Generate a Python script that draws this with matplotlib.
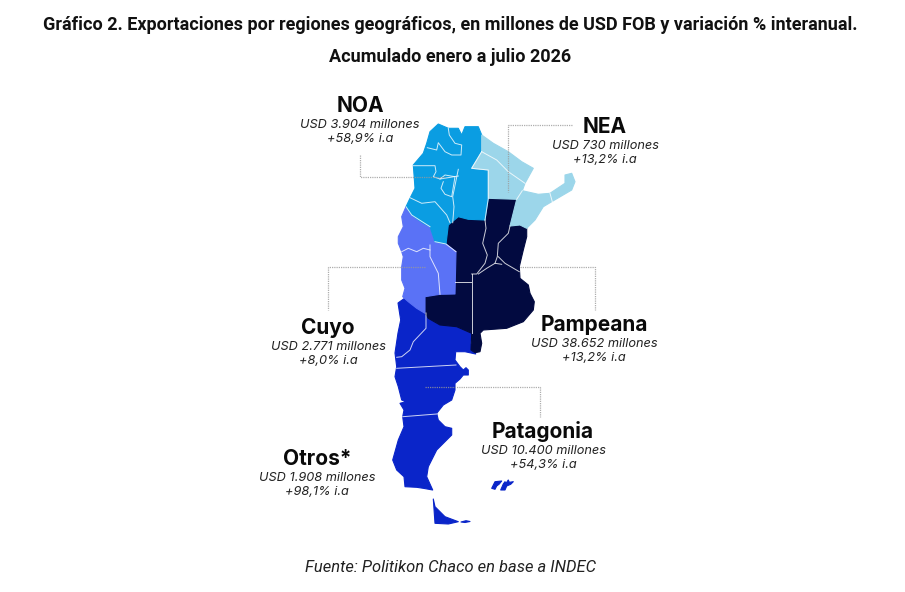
import matplotlib
matplotlib.use('Agg')
import matplotlib.pyplot as plt
from matplotlib.patches import Polygon

# region outlines, in picture units (x right, y down)
noa = [(438.3,124),(448.3,128.3),(458.3,128.3),(461.7,135),(465,126.7),(478.3,126.7),(481.7,135),
       (481.7,151.7),(471.7,168.3),(488.3,170),(488.3,198.3),(485,220),(468.3,219.3),(458.3,216.7),
       (448.3,225),(446,244),(435,241.7),(430,226.7),(423.3,223.3),(411.7,215),(406,206.7),(410,198.3),
       (415,188.3),(413.3,165),(423.3,153.3),(426.7,143.3),(430,131.7)]
nea = [(481.7,135),(493.3,143.3),(508.3,151.7),(521.7,161.7),(533.3,168.3),(525,183.3),(522.3,190.7),
       (538.3,194.3),(550,193.3),(565,183.3),(565,175),(571.7,173.3),(575,181.7),(571.7,190),
       (551.7,201.7),(543.3,206.7),(535,220),(526.7,228.3),(520,225),(510,226),(516.7,199.3),
       (488.3,198.3),(488.3,170),(471.7,168.3),(481.7,151.7)]
pampeana = [(448.3,225),(458.3,216.7),(468.3,219.3),(485,220),(488.3,198.3),(516.7,199.3),(510,226),
            (520,225),(526.7,228.3),(526.7,236.7),(523.3,250),(519.3,266.7),(520,278.3),(528.3,285),
            (530,293.3),(534.3,301.7),(533.3,310),(523.3,321.7),(506.7,328.3),(483.3,330),(480,333.3),
            (481.7,343.3),(480,351.7),(475,352.7),(471,350),(471.7,333.3),(456.7,326.7),(440,325),
            (428.3,318.3),(425,312.7),(425,296.7),(440,294.3),(455,294),(455,281.7),(456,251.7),(446,244)]
cuyo = [(406,206.7),(411.7,215),(423.3,223.3),(430,226.7),(435,241.7),(446,244),(456,251.7),(455,294),
        (440,294.3),(425,296.7),(425,313.3),(416.7,308.3),(408.3,301.7),(402.7,296.7),(405,288.3),
        (401.7,280),(401.7,266.7),(403.3,256.7),(401.7,251.7),(398.3,243.3),(398.3,236.7),(403.3,226.7),
        (401.7,216.7)]
patagonia = [(398,303),(405,298),(425,312.7),(428.3,318.3),(440,325),(456.7,326.7),(471.7,333.3),
             (470.7,343.3),(475,351.7),(475.7,354),(465,351.7),(455.7,351.7),(455,360),(460,366.7),
             (463.3,370),(466,367.7),(468.3,370),(468.3,375),(463.3,375),(460,379),(455,383.3),(455,390),
             (451.7,400),(443.3,405),(436.7,413.3),(438.3,420),(445,426.7),(451.7,428.3),(451.7,435),
             (445,441.7),(436.7,450),(428.3,466.7),(426.7,476.7),(432.7,490),(423.3,488.3),(416.7,487.3),
             (405,486.7),(404,476.7),(396.7,470),(392.7,460),(398.3,440),(404,426.7),(402.7,416.7),
             (404,410),(400,403.3),(406,401.7),(401.7,400),(398.3,386.7),(395,376.7),(396.7,366.7),
             (395,353),(398,333),(400.7,320)]
fuego = [(433.3,499),(435,506.7),(445,516.7),(458.3,521.7),(448.3,524),(435,523.3)]
islote = [(461,522),(466,520.7),(470,521.5),(465,522.5)]
malvinas_o = [(491.7,488.3),(495,481.7),(501.7,481),(499.3,484),(496.7,486),(495,489.3)]
malvinas_e = [(500.7,490),(503.3,484),(505,481.7),(506,483.3),(508.3,480),(509.3,482.3),(513.3,481.7),
              (510.7,484.3),(506.7,486),(505,490)]

# borders between provinces
provincias = [
    [(448.3,128.3),(449.3,135),(455,143.3),(461.7,145),(461,155),(451.7,155),(445,151.7),(438.3,142.7),(436.7,150),(427.3,147.7)],
    [(413.3,165.7),(435,165.7),(436,171.7),(433.3,176.7),(440,179),(458.3,176)],
    [(440,179),(445,175),(455,176.7),(451.7,196.7),(445,194.3),(441,188.3),(443.3,181.7)],
    [(458.3,169.3),(452.7,196.7),(454,206.7),(452.7,222.7)],
    [(410,197.7),(421.7,203.3),(435,201.7),(446.7,215),(450,222.7)],
    [(481.7,151.7),(496.7,160),(508.3,171.7),(525,183.3)],
    [(516.7,199.3),(522.3,190.7)],
    [(550,193.3),(552.3,201.7)],
    [(485,220),(486,228.3),(482.7,243.3),(487.3,255),(485,263.3),(476.7,274),(471.7,274)],
    [(510,226),(508.3,233.3),(498.3,243.3),(497.3,256.7),(495,263.3),(486.7,268.3),(478.3,274)],
    [(498.3,256.7),(505,263.3),(519.3,271.7)],
    [(495,263.3),(501.7,264.3)],
    [(455,281.7),(470.7,281.7)],
    [(471.7,274),(471.7,333.3)],
    [(430,245),(430,256.7),(438.3,273.3),(440,294.3)],
    [(401.7,251.7),(408.3,248.3),(416.7,251.7),(423.3,248.3),(430,250)],
    [(426,313),(426,328.3),(413.3,341.7),(410,350),(401.7,356.7),(396.7,357.3)],
    [(396.7,368.3),(456,365)],
    [(402.7,416.7),(436.7,414)],
    [(481.7,151.7),(471.7,168.3),(488.3,170),(488.3,198.3),(485,220)],
    [(430,226.7),(411.7,215),(406,206.7)],
    [(435,241.7),(446,244),(456,251.7)],
]

# leader lines
guia_noa = [(360,155),(360,177),(445,177)]
guia_nea = [(572,125),(508,125),(508,191.7)]
guia_cuyo = [(425,266.7),(328,266.7),(328,310)]
guia_pampeana = [(520,266.7),(595,266.7),(595,310)]
guia_patagonia = [(425,386.7),(540,386.7),(540,417)]

nombres = ['NOA', 'NEA', 'Cuyo', 'Pampeana', 'Patagonia', 'Otros*']
montos = ['USD 3.904 millones', 'USD 730 millones', 'USD 2.771 millones',
          'USD 38.652 millones', 'USD 10.400 millones', 'USD 1.908 millones']
variaciones = ['+58,9% i.a', '+13,2% i.a', '+8,0% i.a', '+13,2% i.a', '+54,3% i.a', '+98,1% i.a']
centros = [(360, 106), (605, 127), (328, 328), (594, 325), (543, 432), (317, 459)]

colores = {'noa': '#0a9de2', 'nea': '#9cd6ea', 'pampeana': '#020a40',
           'cuyo': '#5a72f6', 'patagonia': '#0a25c9'}

fig = plt.figure(figsize=(9.05, 5.92), dpi=100)
ax = fig.add_axes([0, 0, 1, 1])
ax.set_xlim(0, 905)
ax.set_ylim(592, 0)
ax.axis('off')

for pts, c in [(patagonia, 'patagonia'), (fuego, 'patagonia'), (islote, 'patagonia'), (malvinas_o, 'patagonia'),
               (malvinas_e, 'patagonia'), (pampeana, 'pampeana'), (cuyo, 'cuyo'),
               (noa, 'noa'), (nea, 'nea')]:
    ax.add_patch(Polygon(pts, closed=True, facecolor=colores[c], edgecolor=colores[c], linewidth=0.8,
                         joinstyle='round', zorder=2))

for linea in provincias:
    ax.plot(*zip(*linea), color='white', lw=0.7, alpha=0.8, zorder=3, solid_joinstyle='round')

for g in [guia_noa, guia_nea, guia_cuyo, guia_pampeana, guia_patagonia]:
    ax.plot(*zip(*g), color='#9a9a9a', lw=0.9, ls=(0, (1, 0.8)), zorder=4, alpha=0.8)

ax.text(450, 25.5, 'Gráfico 2. Exportaciones por regiones geográficos, en millones de USD FOB y variación % interanual.',
        ha='center', va='center', family='Roboto', weight='bold', fontsize=13, color='#111111')
ax.text(450, 57.5, 'Acumulado enero a julio 2026', ha='center', va='center', family='Roboto', weight='bold',
        fontsize=13, color='#111111')

for nombre, monto, var, (cx, cy) in zip(nombres, montos, variaciones, centros):
    ax.text(cx, cy, nombre, ha='center', va='center', family='Inter', weight='bold', fontsize=15, color='#0a0a0a')
    ax.text(cx, cy + 19, monto, ha='center', va='center', family='Inter', style='italic', fontsize=9.2, color='#222222')
    ax.text(cx, cy + 33, var, ha='center', va='center', family='Inter', style='italic', fontsize=9.2, color='#222222')

ax.text(450, 568, 'Fuente: Politikon Chaco en base a INDEC', ha='center', va='center', family='Roboto',
        style='italic', fontsize=11.9, color='#222222')

fig.savefig('out.png', dpi=100)
